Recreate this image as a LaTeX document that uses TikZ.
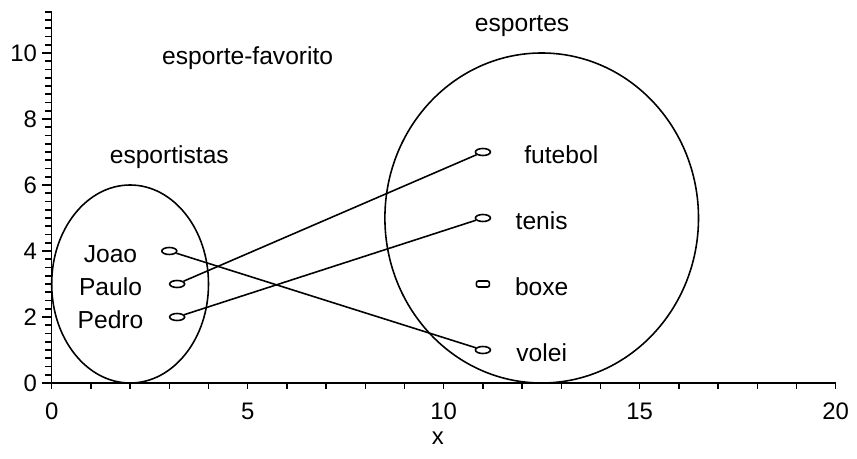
\documentclass[tikz,border=0pt]{standalone}
\usepackage{fontspec}
\setmainfont{Liberation Sans}
\usetikzlibrary{shapes.geometric}
\begin{document}
\begin{tikzpicture}[x=0.392cm,y=0.33cm,
  ln/.style={line width=0.45pt},
  lbl/.style={font=\fontsize{7}{8}\selectfont, inner sep=0pt, anchor=base},
  tl/.style={font=\fontsize{6.8}{8}\selectfont, inner sep=0pt},
  mk/.style={draw, ellipse, inner sep=0pt, minimum width=0.15cm, minimum height=0.07cm, line width=0.45pt},
  mkbox/.style={draw, rectangle, rounded corners=0.02cm, inner sep=0pt, minimum width=0.13cm, minimum height=0.06cm, line width=0.45pt}]
\useasboundingbox (-1.319,-2.303) rectangle (20.543,11.606);
% axes
\draw[ln] (0,0) -- (20,0);
\draw[ln] (0,0) -- (0,11.25);
\foreach \i in {0,...,20} \draw[ln] (\i,0) -- ++(0,-0.18);
\foreach \i in {0,...,45} \draw[ln] (0,\i/4) -- ++(-0.18,0);
\foreach \i in {0,2,...,10} \draw[ln] (0,\i) -- ++(-0.24,0);
\foreach \i in {0,2,...,10} \node[tl, anchor=east] (yl\i) at (-0.36,\i) {\i};
\foreach \i in {0,5,...,20} \node[tl] (xl\i) at (\i,-0.85) {\i};
\node[tl] (xlab) at (9.85,-1.67) {x};
% sets
\draw[ln] (2,3) ellipse [x radius=0.784cm, y radius=0.99cm];
\draw[ln] (12.5,5) ellipse [x radius=1.568cm, y radius=1.65cm];
% titles
\node[lbl] (tsp) at (3,6.66) {esportistas};
\node[lbl] (tfav) at (5,9.66) {esporte-favorito};
\node[lbl] (tesp) at (12,10.66) {esportes};
% element labels
\node[lbl] (lJoao) at (1.5,3.66) {Joao};
\node[lbl] (lPaulo) at (1.5,2.66) {Paulo};
\node[lbl] (lPedro) at (1.5,1.66) {Pedro};
\node[lbl] (lfut) at (13,6.66) {futebol};
\node[lbl] (lten) at (12.5,4.66) {tenis};
\node[lbl] (lbox) at (12.5,2.66) {boxe};
\node[lbl] (lvol) at (12.5,0.66) {volei};
% markers
\node[mk] (Joao) at (3,4) {};
\node[mk] (Paulo) at (3.2,3) {};
\node[mk] (Pedro) at (3.2,2) {};
\node[mk] (fut) at (11,7) {};
\node[mk] (ten) at (11,5) {};
\node[mkbox] (box) at (11,3) {};
\node[mk] (vol) at (11,1) {};
% mapping
\draw[ln] (Joao) -- (vol);
\draw[ln] (Paulo) -- (fut);
\draw[ln] (Pedro) -- (ten);
\end{tikzpicture}
\end{document}
